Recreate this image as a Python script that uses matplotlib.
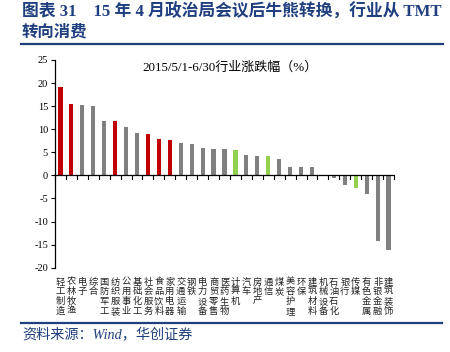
import matplotlib
matplotlib.use("Agg")
import matplotlib.pyplot as plt
from matplotlib.transforms import blended_transform_factory

categories = ["轻工制造", "农林牧渔", "电子", "综合", "国防军工", "纺织服装", "公用事业",
              "基础化工", "社会服务", "食品饮料", "家用电器", "交通运输", "钢铁", "电力设备",
              "商贸零售", "医药生物", "计算机", "汽车", "房地产", "通信", "煤炭", "美容护理",
              "环保", "建筑材料", "机械设备", "石油石化", "银行", "传媒", "有色金属",
              "非银金融", "建筑装饰"]
values = [19.1, 15.4, 15.3, 15.0, 11.8, 11.7, 10.4, 9.2, 8.9, 7.8, 7.7, 7.1, 6.8, 5.9,
          5.8, 5.7, 5.5, 4.5, 4.3, 4.1, 3.5, 1.9, 1.8, 1.8, -0.2, -0.6, -2.0, -2.7, -4.0,
          -14.2, -16.1]
consumer = ["轻工制造", "农林牧渔", "纺织服装", "社会服务", "食品饮料", "家用电器"]
tmt = ["计算机", "通信", "传媒"]

RED, GRAY, GREEN = "#C00000", "#808080", "#92D050"
colors = [RED if c in consumer else GREEN if c in tmt else GRAY for c in categories]

W, H, DPI = 450, 352, 100
fig = plt.figure(figsize=(W / DPI, H / DPI), dpi=DPI)
navy = "#1F3F7F"

def fx(px):
    return px / W

def fy(py):
    return 1 - py / H

ax = fig.add_axes([fx(55), fy(267.7), fx(394) - fx(55), fy(60) - fy(267.7)])
x = list(range(len(categories)))
ax.bar(x, values, width=0.38, color=colors, zorder=2)
ax.set_xlim(-0.5, len(categories) - 0.5)
ax.set_ylim(-20, 25)
ax.set_yticks(range(-20, 30, 5))
ax.set_yticklabels([str(v) for v in range(-20, 30, 5)], family="Liberation Serif", fontsize=7.5)
for s in ["top", "right", "bottom"]:
    ax.spines[s].set_visible(False)
ax.spines["left"].set_linewidth(0.9)
ax.tick_params(axis="y", length=3, width=0.8, pad=2)
ax.axhline(0, color="black", lw=0.9, zorder=3)
# x tick marks at category boundaries, below the zero line
for b in [i - 0.5 for i in range(len(categories) + 1)]:
    ax.plot([b, b], [0, -0.7], color="black", lw=0.8, zorder=3, clip_on=False)
ax.set_xticks([])

ax.text(0.515, 0.965, "2015/5/1-6/30行业涨跌幅（%）", transform=ax.transAxes,
        ha="center", va="center", fontsize=9.4,
        family=["Liberation Serif", "Noto Sans CJK SC"])

# vertical category labels
tr = blended_transform_factory(ax.transData, fig.transFigure)
row_y = [282, 291.8, 301.6, 311.4]
for i, name in enumerate(categories):
    for j, ch in enumerate(name):
        ax.text(i, fy(row_y[j]), ch, transform=tr, ha="center", va="center",
                fontsize=6.7, family="Noto Sans CJK SC", fontweight="light",
                color="#222222", clip_on=False)

# title
fig.text(fx(22), fy(11), "图表 31    15 年 4 月政治局会议后牛熊转换，行业从 TMT",
         fontsize=12.1, fontweight="bold", color=navy, ha="left", va="center",
         family=["Liberation Serif", "Noto Sans CJK SC"])
fig.text(fx(22), fy(31), "转向消费", fontsize=11.8, fontweight="bold", color=navy,
         ha="left", va="center", family="Noto Sans CJK SC")
fig.add_artist(plt.Line2D([fx(21), fx(443)], [fy(44), fy(44)], color=navy, lw=1.6))
fig.add_artist(plt.Line2D([fx(21), fx(442)], [fy(322.5), fy(322.5)], color=navy, lw=1.6))
fig.text(fx(22), fy(335.5), "资料来源：Wind，华创证券", fontsize=10.2, style="italic",
         color=navy, ha="left", va="center",
         family=["Liberation Serif", "Noto Sans CJK SC"])

fig.savefig("out.png", dpi=DPI)
